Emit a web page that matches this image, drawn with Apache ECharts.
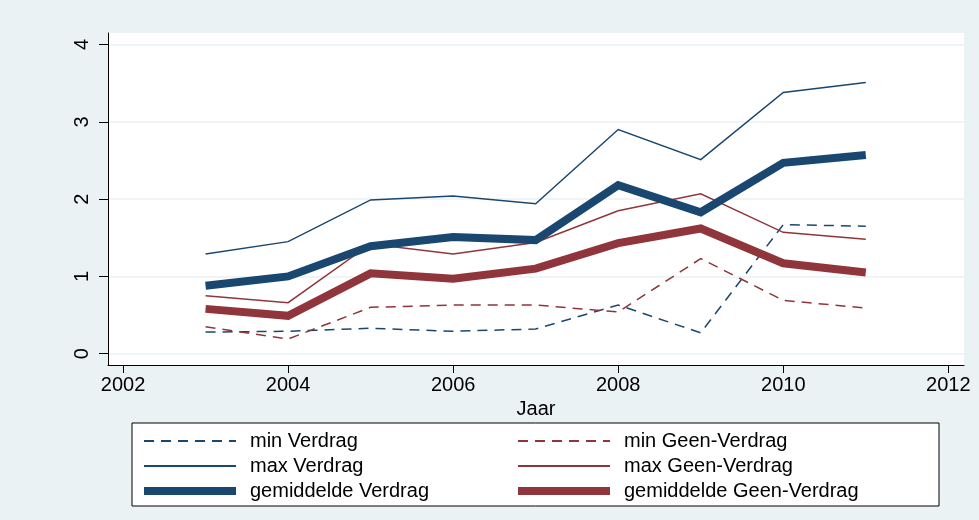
<!DOCTYPE html>
<html>
<head>
<meta charset="utf-8">
<script src="https://cdn.jsdelivr.net/npm/echarts@6/dist/echarts.min.js"></script>
<style>
  html, body { margin: 0; padding: 0; background: #eaf2f3; }
  #chart { width: 979px; height: 520px; }
</style>
</head>
<body>
<div id="chart"></div>
<script>
// jaren en waarden
const years = [2003, 2004, 2005, 2006, 2007, 2008, 2009, 2010, 2011];
const minVerdrag = [0.28, 0.29, 0.33, 0.29, 0.32, 0.63, 0.27, 1.67, 1.65];
const maxVerdrag = [1.29, 1.45, 1.99, 2.04, 1.94, 2.90, 2.51, 3.38, 3.51];
const gemVerdrag = [0.88, 1.00, 1.39, 1.51, 1.47, 2.18, 1.83, 2.47, 2.57];
const minGeen = [0.35, 0.19, 0.60, 0.63, 0.63, 0.54, 1.23, 0.69, 0.59];
const maxGeen = [0.75, 0.66, 1.42, 1.29, 1.44, 1.85, 2.07, 1.57, 1.48];
const gemGeen = [0.58, 0.49, 1.04, 0.97, 1.10, 1.43, 1.62, 1.17, 1.05];
const xTicks = [2002, 2004, 2006, 2008, 2010, 2012];
const yTicks = [0, 1, 2, 3, 4];

const NAVY = '#1a476f';
const MAROON = '#90353b';
const FONT = "'Liberation Sans', Arial, sans-serif";
const DASH = [10, 7];

const pairs = arr => years.map((y, i) => [y, arr[i]]);

function line(name, arr, color, width, dashed) {
  return {
    name: name,
    type: 'line',
    data: pairs(arr),
    symbol: 'none',
    lineStyle: { color: color, width: width, type: dashed ? DASH : 'solid', cap: 'butt', join: 'miter' },
    itemStyle: { color: color },
    z: width > 4 ? 3 : 2
  };
}

// legenda-item met eigen lijndikte
function item(name, width, dashed) {
  return { name: name, lineStyle: { width: width, type: dashed ? DASH : 'solid', cap: 'butt' } };
}

const legendBase = {
  orient: 'vertical', padding: 0, top: 431,
  itemWidth: 92, itemHeight: 14, itemGap: 5,
  itemStyle: { opacity: 0, borderWidth: 0 },
  textStyle: { fontFamily: FONT, fontSize: 20, color: '#000', lineHeight: 20, padding: [0, 0, 0, 9] },
  z: 5
};

const chart = echarts.init(document.getElementById('chart'), null, { renderer: 'canvas' });
chart.setOption({
  animation: false,
  backgroundColor: '#eaf2f3',
  grid: {
    left: 108, top: 33, right: 15, bottom: 155,
    show: true, backgroundColor: '#fff', borderWidth: 0,
    containLabel: false, outerBoundsMode: 'none'
  },
  xAxis: {
    type: 'value',
    min: 2001.818, max: 2012.19,
    name: 'Jaar', nameLocation: 'middle', nameGap: 27,
    nameTextStyle: { fontFamily: FONT, fontSize: 20, color: '#000' },
    axisLine: { show: true, onZero: false, lineStyle: { color: '#000', width: 1 } },
    axisTick: { show: true, length: 8, customValues: xTicks, lineStyle: { color: '#000' } },
    axisLabel: { customValues: xTicks, margin: 10, fontFamily: FONT, fontSize: 20, color: '#000', formatter: v => String(v) },
    splitLine: { show: false }
  },
  yAxis: {
    type: 'value',
    min: -0.146, max: 4.149,
    axisLine: { show: true, onZero: false, lineStyle: { color: '#000', width: 1 } },
    axisTick: { show: true, length: 9, customValues: yTicks, lineStyle: { color: '#000' } },
    axisLabel: { customValues: yTicks, rotate: 90, margin: 16, fontFamily: FONT, fontSize: 20, color: '#000' },
    splitLine: { show: true, lineStyle: { color: '#eaf2f3', width: 1.5 } }
  },
  graphic: [{
    type: 'rect', z: 1,
    shape: { x: 132, y: 423, width: 807, height: 83 },
    style: { fill: '#fff', stroke: '#000', lineWidth: 1 }
  }],
  legend: [
    Object.assign({}, legendBase, {
      left: 140,
      data: [item('min Verdrag', 2, true), item('max Verdrag', 2, false), item('gemiddelde Verdrag', 8, false)]
    }),
    Object.assign({}, legendBase, {
      left: 514,
      data: [item('min Geen-Verdrag', 2, true), item('max Geen-Verdrag', 2, false), item('gemiddelde Geen-Verdrag', 8, false)]
    })
  ],
  series: [
    line('min Verdrag', minVerdrag, NAVY, 1.5, true),
    line('max Verdrag', maxVerdrag, NAVY, 1.5, false),
    line('min Geen-Verdrag', minGeen, MAROON, 1.5, true),
    line('max Geen-Verdrag', maxGeen, MAROON, 1.5, false),
    line('gemiddelde Geen-Verdrag', gemGeen, MAROON, 8, false),
    line('gemiddelde Verdrag', gemVerdrag, NAVY, 8, false)
  ]
});
</script>
</body>
</html>
